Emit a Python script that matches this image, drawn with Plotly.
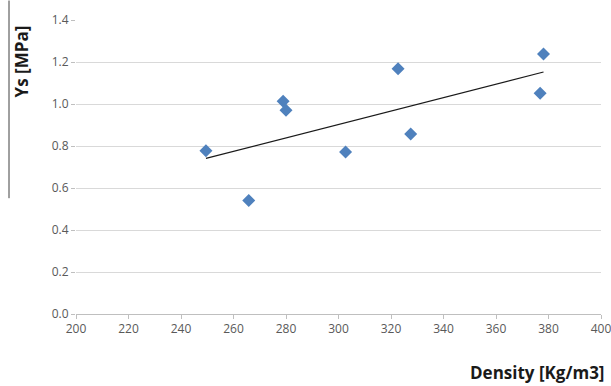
import numpy as np
import plotly.graph_objects as go

# Measured samples: density vs. yield strength
density = [249.5, 265.8, 278.9, 280.0, 302.7, 322.7, 327.5, 376.8, 378.1]
ys_mpa = [0.777, 0.541, 1.013, 0.970, 0.771, 1.168, 0.857, 1.051, 1.238]

x_ticks = [200, 220, 240, 260, 280, 300, 320, 340, 360, 380, 400]
y_ticks = [0.0, 0.2, 0.4, 0.6, 0.8, 1.0, 1.2, 1.4]

# Linear trend line across the measured density range
slope, intercept = np.polyfit(density, ys_mpa, 1)
trend_x = [min(density), max(density)]
trend_y = [slope * v + intercept for v in trend_x]

font_family = "Open Sans, Liberation Sans, sans-serif"

L, R, T, B = 76, 10, 19.5, 72
PW = 611 - L - R
PH = 386 - T - B

fig = go.Figure()
fig.add_trace(go.Scatter(
    x=trend_x, y=trend_y, mode="lines",
    line=dict(color="#1a1a1a", width=1.2),
    hoverinfo="skip", showlegend=False,
))
fig.add_trace(go.Scatter(
    x=density, y=ys_mpa, mode="markers",
    marker=dict(symbol="diamond", size=10, color="#4f81bd", line=dict(width=0)),
    showlegend=False,
))

fig.update_layout(
    width=611, height=386,
    margin=dict(l=L, r=R, t=T, b=B),
    paper_bgcolor="white", plot_bgcolor="white",
    font=dict(family=font_family, size=12, color="#595959"),
    xaxis=dict(
        range=[200, 400], tickvals=x_ticks,
        ticktext=[str(v) for v in x_ticks],
        showgrid=False, zeroline=False, automargin=False,
        ticklabeloverflow="allow",
        showline=True, linecolor="#bfbfbf", linewidth=1,
        ticks="outside", ticklen=4, tickcolor="#bfbfbf",
        tickfont=dict(size=12, color="#595959"),
    ),
    yaxis=dict(
        range=[0, 1.4], tickvals=y_ticks,
        ticktext=[f"{v:.1f}" for v in y_ticks],
        showgrid=True, gridcolor="#d9d9d9", gridwidth=1,
        zeroline=False, showline=False, automargin=False,
        ticklabeloverflow="allow",
        ticks="outside", ticklen=4, tickcolor="#bfbfbf",
        tickfont=dict(size=12, color="#595959"),
    ),
    shapes=[dict(
        type="line", xref="paper", yref="paper",
        x0=(9 - L) / PW, x1=(9 - L) / PW,
        y0=1 + T / PH, y1=1 - (198 - T) / PH,
        line=dict(color="#404040", width=1),
    )],
    annotations=[
        dict(
            text="<b>Ys [MPa]</b>", xref="paper", yref="paper",
            x=(21 - L) / PW, y=1 - (61 - T) / PH,
            xanchor="center", yanchor="middle",
            textangle=-90, showarrow=False,
            font=dict(family=font_family, size=17, color="#1a1a1a"),
        ),
        dict(
            text="<b>Density [Kg/m3]</b>", xref="paper", yref="paper",
            x=(607 - L) / PW, y=-(373 - (386 - B)) / PH,
            xanchor="right", yanchor="middle",
            showarrow=False,
            font=dict(family=font_family, size=17, color="#1a1a1a"),
        ),
    ],
)

fig.write_html("out.html")
